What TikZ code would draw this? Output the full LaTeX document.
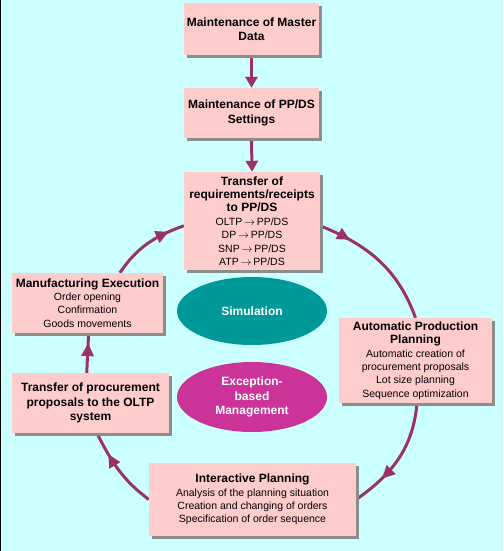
\documentclass[tikz,border=0pt]{standalone}
\usepackage{fontspec}
\setmainfont{Liberation Sans}
\usetikzlibrary{shadows,arrows.meta,decorations.markings,shapes.geometric}
\definecolor{bgc}{HTML}{CCFFFF}
\definecolor{boxpink}{HTML}{FFCCCC}
\definecolor{flowc}{HTML}{993366}
\definecolor{simc}{HTML}{009999}
\definecolor{excc}{HTML}{CC3399}
\newcommand{\ttl}{\fontsize{12}{14.5}\selectfont\bfseries}
\newcommand{\sml}{\fontsize{10.5}{13.4}\selectfont\mdseries}
\newcommand{\rarr}{\,$\rightarrow$\,}
\pgfdeclarelayer{bgl}
\pgfdeclarelayer{back}
\pgfsetlayers{bgl,back,main}
\begin{document}
\begin{tikzpicture}[x=1pt,y=1pt,
  box/.style={fill=boxpink, inner sep=0pt, align=center, font=\sml,
    drop shadow={shadow xshift=3pt,shadow yshift=-3pt,fill=black!45,opacity=1}},
  tbox/.style={box, font=\ttl},
  oval/.style={ellipse, inner sep=0pt, text=white, align=center, font=\ttl},
  flow/.style={draw, color=flowc, line width=3pt},
  vflow/.style={flow, -{Triangle[length=11pt,width=12pt]}},
  midarrow/.style={postaction={decorate}, decoration={markings,
    mark=at position #1 with {\arrow{Triangle[length=13pt,width=12pt]}}}},
]
\begin{pgfonlayer}{bgl}
\fill[bgc] (0,0) rectangle (503,-551);
\fill[black] (0,0) rectangle (1,-551);
\end{pgfonlayer}
\useasboundingbox (0,0) rectangle (503,-551);

\node[tbox, minimum width=135pt, minimum height=52pt] (b1) at (251.5,-29)
  {Maintenance of Master\\Data};
\node[tbox, minimum width=135pt, minimum height=50pt] (b2) at (251.5,-113)
  {Maintenance of PP/DS\\Settings};
\node[box, minimum width=136pt, minimum height=98pt] (b3) at (252,-221)
  {\ttl Transfer of\\\ttl requirements/receipts\\\ttl to PP/DS\\OLTP\rarr PP/DS\\DP\rarr PP/DS\\SNP\rarr PP/DS\\ATP\rarr PP/DS};
\node[box, minimum width=151pt, minimum height=60pt] (me) at (87.5,-303)
  {\ttl Manufacturing Execution\\Order opening\\Confirmation\\Goods movements};
\node[tbox, minimum width=157pt, minimum height=60pt] (tp) at (90.5,-403)
  {Transfer of procurement\\proposals to the OLTP\\system};
\node[box, minimum width=153pt, minimum height=85pt] (app) at (415.5,-360.5)
  {\ttl Automatic Production\\\ttl Planning\\Automatic creation of\\procurement proposals\\Lot size planning\\Sequence optimization};
\node[box, minimum width=207pt, minimum height=73pt] (ip) at (252.5,-499.5)
  {\ttl Interactive Planning\\Analysis of the planning situation\\Creation and changing of orders\\Specification of order sequence};

\node[oval, fill=simc, minimum width=150pt, minimum height=68pt] (sim) at (252,-311) {Simulation};
\node[oval, fill=excc, minimum width=150pt, minimum height=70pt] (exc) at (252,-397)
  {Exception-\\based\\Management};

\begin{pgfonlayer}{back}
\draw[vflow] (b1.south) -- (b2.north);
\draw[vflow] (b2.south) -- (b3.north);
\draw[flow, midarrow=0.24] (b3.-4) to[out=-22,in=110] (app.north);
\draw[flow, midarrow=0.72] (app.-88) to[out=-95,in=35] (ip.east);
\draw[flow, midarrow=0.72] (ip.west) to[out=143,in=-63] (tp.-78);
\draw[flow, midarrow=0.75] (tp.97) to[out=88,in=-92] (me.-88);
\draw[flow, midarrow=0.8] (me.43) to[out=56,in=200] (b3.184);
\end{pgfonlayer}
\end{tikzpicture}
\end{document}
